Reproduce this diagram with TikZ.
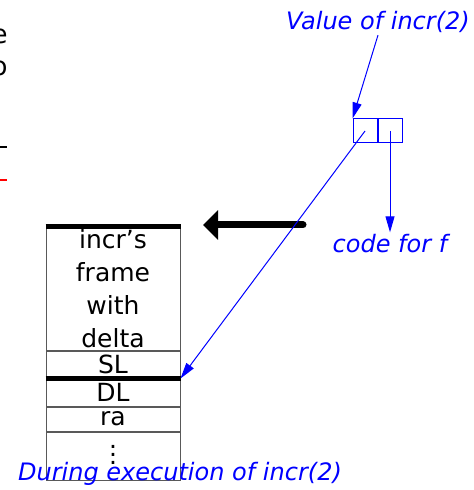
\documentclass[tikz,border=0pt]{standalone}
\usepackage{fontspec}
\setmainfont{DejaVu Sans}
\usepackage{xcolor}
\usepackage{tikz}
\usetikzlibrary{
    arrows.meta,
    positioning
}

\begin{document}
\begin{tikzpicture}[
    x=0.5pt,
    y=-0.5pt,
    stack_cell/.style={
        draw=black!65,
        line width=0.5pt,
        minimum width=67pt,
        inner sep=0pt,
        align=center,
        font=\fontsize{12.5}{16.5}\selectfont
    },
    ptr_cell/.style={
        draw=blue,
        line width=0.5pt,
        minimum width=12pt,
        minimum height=12pt,
        inner sep=0pt
    },
    blue_label/.style={
        blue,
        inner sep=1pt,
        font=\fontsize{12}{14}\selectfont\itshape
    },
    ptr_edge/.style={
        draw=blue,
        line width=0.5pt,
        -{Triangle[length=8pt,width=4.5pt]}
    },
    bar_style/.style={
        draw=black,
        line width=2.5pt
    }
]
\useasboundingbox (0,0) rectangle (474,490);

% --- Cut-off bits on the left ---
\node[anchor=east, inner sep=0pt, font=\fontsize{13}{15}\selectfont] (frag_e) at (8,36) {e};
\node[anchor=east, inner sep=0pt, font=\fontsize{13}{15}\selectfont] (frag_o) at (8,68) {o};
\draw[line width=1pt] (0,147) -- (7,147);
\draw[red, line width=1pt] (0,180) -- (7,180);

% --- Stack ---
\node[stack_cell, minimum height=61.5pt] (frame) at (113,288.5) {incr's\\frame\\with\\delta};
\node[stack_cell, minimum height=13.5pt, below=0pt of frame] (SL) {SL};
\node[stack_cell, minimum height=13.5pt, below=0pt of SL] (DL) {DL};
\node[stack_cell, minimum height=12pt, below=0pt of DL] (ra) {ra};
\node[stack_cell, minimum height=24pt, below=0pt of ra] (rest) {\raisebox{-4pt}[0pt][0pt]{$\vdots$}};

% thick frame borders
\draw[bar_style] (frame.north west) -- (frame.north east);
\draw[bar_style] (SL.south west) -- (SL.south east);

% --- Closure ---
\node[ptr_cell] (env_cell) at (365,131) {};
\node[ptr_cell, right=0pt of env_cell] (code_cell) {};

% --- Labels ---
\node[blue_label] (value_label) at (378,22) {Value of incr(2)};
\node[blue_label] (code_label) at (390,244) {code for f};
\node[blue_label] (during_label) at (180,474) {During execution of incr(2)};

% --- Edges ---
\coordinate (fp_tail) at (303,225);
\coordinate (fp_tip) at (203,225);
\draw[line width=3.5pt, line cap=round, -{Triangle[length=7.5pt,width=14.5pt]}] (fp_tail) -- (fp_tip);

\draw[ptr_edge] (value_label.south) -- (env_cell.north west);
\draw[ptr_edge] (env_cell.center) -- (DL.north east);
\draw[ptr_edge] (code_cell.center) -- (code_cell.center |- code_label.north);

\end{tikzpicture}
\end{document}
